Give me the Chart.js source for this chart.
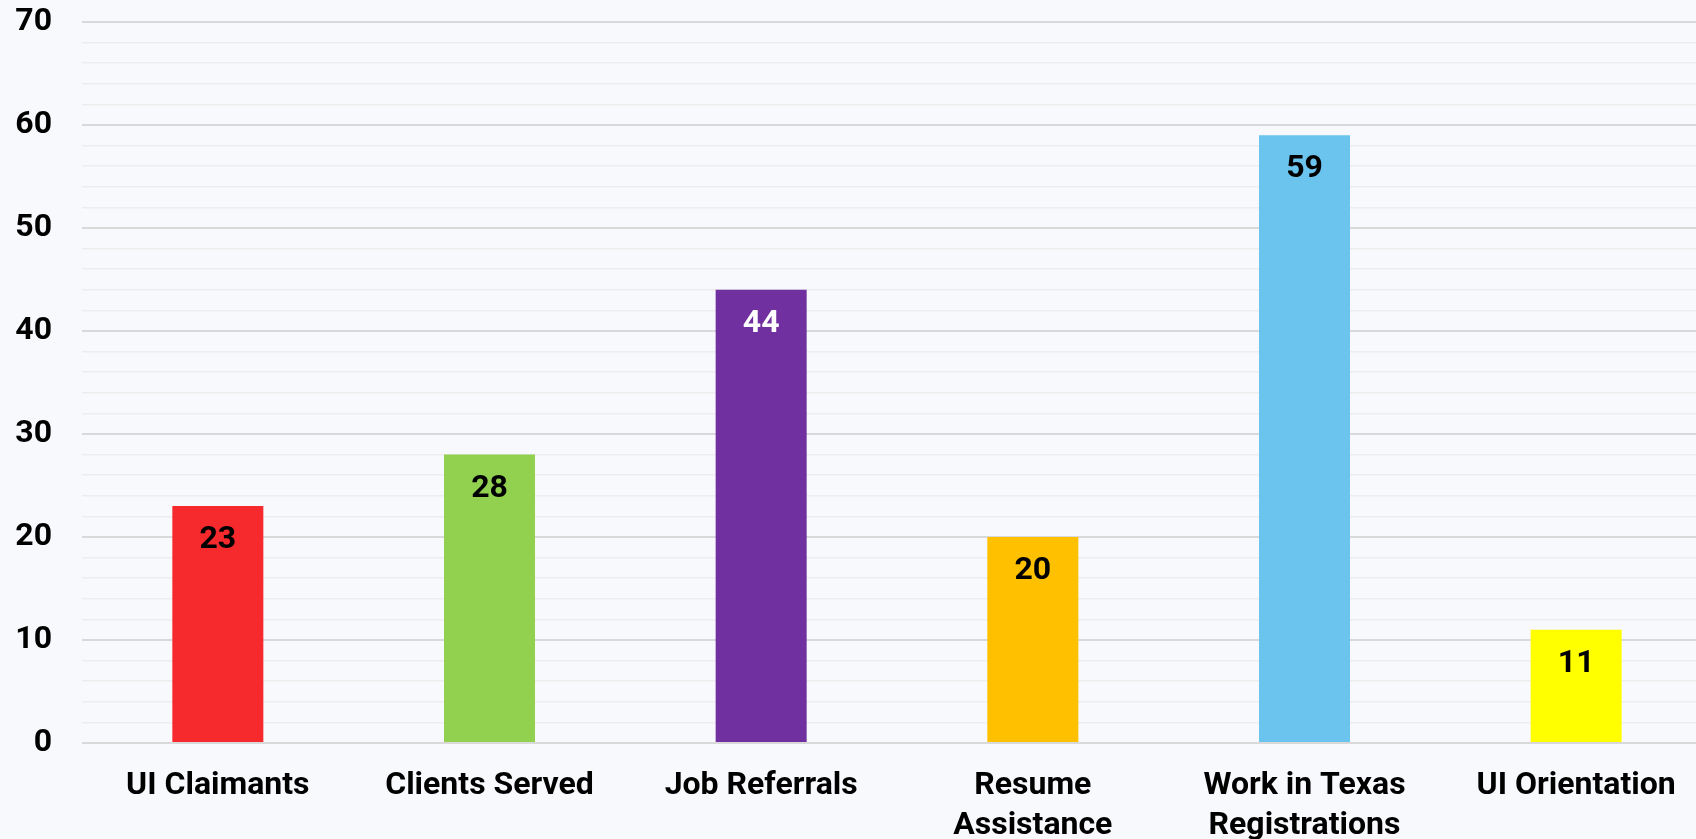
<!DOCTYPE html>
<html>
<head>
<meta charset="utf-8">
<script src="https://cdn.jsdelivr.net/npm/chart.js@4"></script>
<style>
  html, body { margin: 0; padding: 0; overflow: hidden; background: #f8f9fc; }
  #wrap { width: 1712px; height: 839px; }
</style>
</head>
<body>
<div id="wrap"><canvas id="myChart"></canvas></div>
<script>
const categories = ['UI Claimants', 'Clients Served', 'Job Referrals', ['Resume', 'Assistance'], ['Work in Texas', 'Registrations'], 'UI Orientation'];
const values = [23, 28, 44, 20, 59, 11];
const barColors = ['#f62a2d', '#92d050', '#7030a0', '#ffc000', '#6bc4ee', '#ffff00'];
const labelColors = ['#000', '#000', '#fff', '#000', '#000', '#000'];
const yMax = 70;

// draws the value inside the top of each bar
const valueLabels = {
  id: 'valueLabels',
  afterDatasetsDraw(chart) {
    const ctx = chart.ctx;
    const meta = chart.getDatasetMeta(0);
    ctx.save();
    ctx.font = 'bold 32px Roboto';
    ctx.textAlign = 'center';
    ctx.textBaseline = 'middle';
    meta.data.forEach((bar, i) => {
      ctx.fillStyle = labelColors[i];
      ctx.fillText(String(values[i]), bar.x, bar.y + 34);
    });
    ctx.restore();
  }
};

const config = {
  type: 'bar',
  data: {
    labels: categories,
    datasets: [{
      data: values,
      backgroundColor: barColors,
      borderWidth: 0,
      barPercentage: 0.335,
      categoryPercentage: 1,
    }]
  },
  options: {
    responsive: true,
    maintainAspectRatio: false,
    animation: false,
    layout: { padding: { left: 0, right: 0, top: 22, bottom: 0 } },
    plugins: {
      legend: { display: false },
      tooltip: { enabled: false },
    },
    scales: {
      x: {
        grid: { display: false, drawTicks: false },
        border: { display: false },
        ticks: {
          color: '#000',
          padding: 23,
          maxRotation: 0,
          autoSkip: false,
          font: { family: 'Roboto', size: 32, weight: 'bold', lineHeight: 1.24 },
        },
        afterFit(scale) { scale.height = 96; }
      },
      y: {
        min: 0,
        max: yMax,
        grid: {
          drawTicks: false,
          color: c => (c.tick.value % 10 === 0 ? '#d9d9d9' : '#ededed'),
          lineWidth: c => (c.tick.value % 10 === 0 ? 2 : 1.5),
        },
        border: { display: false },
        ticks: {
          stepSize: 2,
          autoSkip: false,
          color: '#000',
          padding: 30,
          font: { family: 'Roboto', size: 32, weight: 'bold' },
          callback: v => (v % 10 === 0 ? String(v) : ''),
        },
        afterFit(scale) {
          scale.width = 82;
          scale.paddingTop = 0;
          scale.paddingBottom = 0;
        }
      }
    }
  },
  plugins: [valueLabels]
};

new Chart(document.getElementById('myChart').getContext('2d'), config);
</script>
</body>
</html>
